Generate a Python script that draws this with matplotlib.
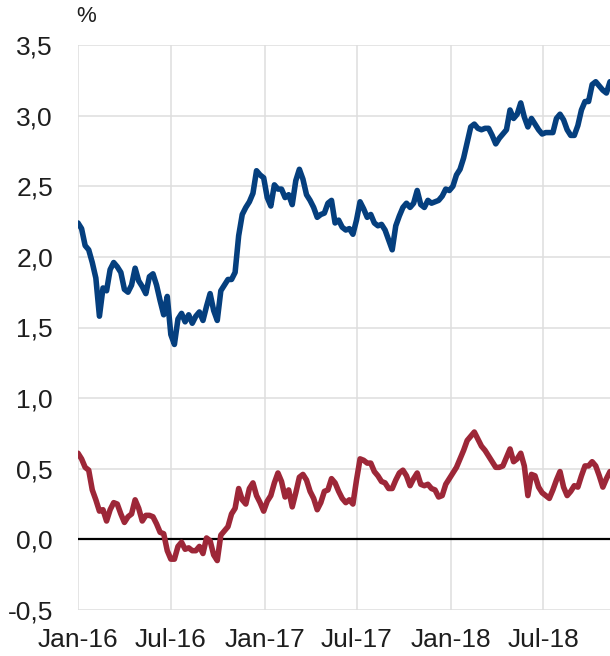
import numpy as np
import pandas as pd
import matplotlib
matplotlib.use("Agg")
import matplotlib.pyplot as plt
import matplotlib.dates as mdates
from matplotlib.ticker import FuncFormatter

# weekly observations, Fri 1 Jan 2016 onwards
start = "2016-01-01"

us_10y = [
    2.24, 2.20, 2.08, 2.05, 1.96, 1.85, 1.58, 1.78, 1.76, 1.91,
    1.96, 1.93, 1.89, 1.77, 1.75, 1.80, 1.92, 1.83, 1.79, 1.74,
    1.86, 1.88, 1.80, 1.69, 1.59, 1.72, 1.45, 1.38, 1.56, 1.60,
    1.54, 1.59, 1.53, 1.58, 1.61, 1.55, 1.65, 1.74, 1.62, 1.55,
    1.76, 1.80, 1.84, 1.84, 1.89, 2.15, 2.30, 2.35, 2.39, 2.45,
    2.61, 2.58, 2.56, 2.42, 2.36, 2.51, 2.48, 2.48, 2.42, 2.44,
    2.37, 2.54, 2.62, 2.55, 2.44, 2.40, 2.35, 2.28, 2.30, 2.31,
    2.38, 2.40, 2.24, 2.26, 2.21, 2.19, 2.20, 2.16, 2.26, 2.39,
    2.34, 2.28, 2.30, 2.24, 2.22, 2.23, 2.19, 2.12, 2.05, 2.22,
    2.29, 2.35, 2.38, 2.35, 2.38, 2.47, 2.37, 2.35, 2.40, 2.38,
    2.39, 2.40, 2.43, 2.48, 2.47, 2.50, 2.58, 2.62, 2.70, 2.81,
    2.92, 2.94, 2.91, 2.90, 2.91, 2.91, 2.86, 2.80, 2.84, 2.87,
    2.90, 3.04, 2.98, 3.01, 3.09, 2.99, 2.92, 2.98, 2.94, 2.90,
    2.87, 2.88, 2.88, 2.88, 2.98, 3.01, 2.97, 2.90, 2.86, 2.86,
    2.93, 3.04, 3.10, 3.10, 3.22, 3.24, 3.21, 3.18, 3.16, 3.24,
]

de_10y = [
    0.61, 0.57, 0.51, 0.49, 0.35, 0.28, 0.20, 0.21, 0.13, 0.21,
    0.26, 0.25, 0.18, 0.12, 0.16, 0.18, 0.28, 0.22, 0.13, 0.17,
    0.17, 0.16, 0.11, 0.05, 0.04, -0.08, -0.14, -0.14, -0.05, -0.02,
    -0.07, -0.06, -0.08, -0.08, -0.05, -0.10, 0.01, -0.01, -0.11, -0.15,
    0.03, 0.06, 0.09, 0.18, 0.22, 0.36, 0.28, 0.25, 0.36, 0.40,
    0.31, 0.26, 0.20, 0.27, 0.31, 0.40, 0.47, 0.41, 0.30, 0.35,
    0.23, 0.33, 0.44, 0.46, 0.42, 0.34, 0.29, 0.21, 0.26, 0.34,
    0.35, 0.43, 0.40, 0.34, 0.29, 0.26, 0.28, 0.25, 0.42, 0.57,
    0.56, 0.54, 0.54, 0.48, 0.45, 0.41, 0.40, 0.36, 0.36, 0.42,
    0.47, 0.49, 0.45, 0.38, 0.43, 0.47, 0.39, 0.38, 0.39, 0.36,
    0.35, 0.30, 0.31, 0.39, 0.43, 0.47, 0.51, 0.57, 0.63, 0.70,
    0.73, 0.76, 0.71, 0.66, 0.63, 0.59, 0.55, 0.51, 0.51, 0.52,
    0.58, 0.64, 0.55, 0.57, 0.61, 0.52, 0.31, 0.46, 0.45, 0.37,
    0.33, 0.31, 0.29, 0.35, 0.42, 0.48, 0.37, 0.31, 0.34, 0.38,
    0.37, 0.45, 0.52, 0.52, 0.55, 0.52, 0.45, 0.37, 0.43, 0.48,
]

y_ticks = [-0.5, 0.0, 0.5, 1.0, 1.5, 2.0, 2.5, 3.0, 3.5]
x_ticks = ["2016-01-01", "2016-07-01", "2017-01-01", "2017-07-01",
           "2018-01-01", "2018-07-01"]

dates = pd.date_range(start, periods=len(us_10y), freq="7D")

plt.rcParams["font.family"] = ["Liberation Sans", "DejaVu Sans"]
text_col = "#1e1e1e"

fig = plt.figure(figsize=(6.10, 6.56), dpi=100)
ax = fig.add_axes([78 / 610, 46 / 656, 1 - 78 / 610, 565 / 656])

ax.plot(dates, us_10y, color="#053f7e", lw=4.0, solid_joinstyle="round",
        solid_capstyle="round", zorder=3)
ax.plot(dates, de_10y, color="#9d2738", lw=4.0, solid_joinstyle="round",
        solid_capstyle="round", zorder=3)
ax.axhline(0, color="black", lw=1.6, zorder=2)

ax.set_ylim(-0.5, 3.5)
ax.set_xlim(pd.Timestamp(start), dates[-1])
ax.set_yticks(y_ticks)
ax.yaxis.set_major_formatter(FuncFormatter(lambda v, _: f"{v:.1f}".replace(".", ",")))
ax.set_xticks(pd.to_datetime(x_ticks))
ax.xaxis.set_major_formatter(mdates.DateFormatter("%b-%y"))

ax.grid(True, color="#dedede", lw=1.1, zorder=1)
for s in ax.spines.values():
    s.set_visible(False)
ax.tick_params(length=0, labelsize=19, colors=text_col)
ax.tick_params(axis="y", pad=18)
ax.tick_params(axis="x", pad=13)

fig.text(76 / 610, 1 - 27 / 656, "%", fontsize=16, color=text_col,
         ha="left", va="bottom")

fig.savefig("out.png", dpi=100)
